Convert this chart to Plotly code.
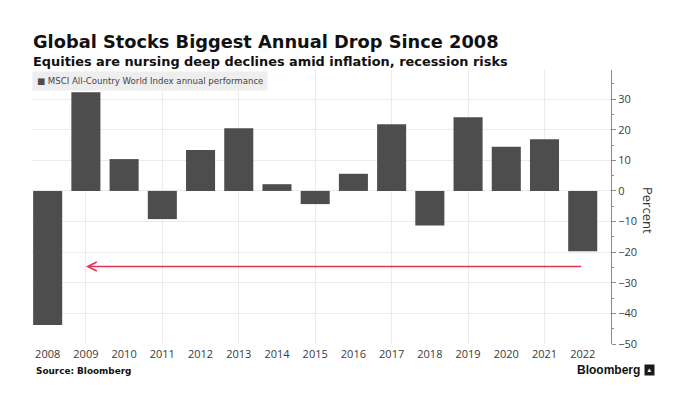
import plotly.graph_objects as go

years = [str(y) for y in range(2008, 2023)]
performance = [-43.8, 32.2, 10.4, -9.2, 13.4, 20.5, 2.2, -4.3, 5.6, 21.8, -11.3, 24.1, 14.4, 16.9, -19.7]
y_tickvals = [30, 20, 10, 0, -10, -20, -30, -40, -50]
arrow_from = "2022"
arrow_to = "2009"
arrow_level = -24.7

title = "Global Stocks Biggest Annual Drop Since 2008"
subtitle = "Equities are nursing deep declines amid inflation, recession risks"
legend_label = "MSCI All-Country World Index annual performance"

W, H = 675, 398
L, R, T, B = 32, 64, 70, 54
PW, PH = W - L - R, H - T - B


def px(x):
    return (x - L) / PW


def py(y):
    return (H - B - y) / PH


BAR = "#4d4d4d"
GRID = "#ebebeb"
TXT = "#333333"

fig = go.Figure()
fig.add_trace(go.Bar(x=years, y=performance, marker=dict(color=BAR, line=dict(width=0)),
                     width=0.76, showlegend=False, hoverinfo="x+y"))
# invisible trace to carry the vertical-grid axis
fig.add_trace(go.Scatter(x=[0, 14], y=[0, 0], xaxis="x2", mode="markers",
                         marker=dict(opacity=0), showlegend=False, hoverinfo="skip"))

fig.update_layout(
    width=W, height=H,
    margin=dict(l=L, r=R, t=T, b=B),
    paper_bgcolor="white", plot_bgcolor="white",
    font=dict(family="Open Sans", color=TXT),
    xaxis=dict(type="category", range=[-0.41, 14.74], showgrid=False, zeroline=False,
               showline=False, ticks="", tickfont=dict(size=11, color="#3a3a3a", family="Open Sans"),
               ticklabelstandoff=2),
    xaxis2=dict(overlaying="x", anchor="y", range=[-0.41, 14.74], tick0=1, dtick=2,
                showgrid=True, gridcolor=GRID, gridwidth=1, showticklabels=False,
                zeroline=False, showline=False, ticks=""),
    yaxis=dict(side="right", range=[-50, 39.5], tickvals=y_tickvals, showgrid=True,
               gridcolor=GRID, gridwidth=1, zeroline=False, showline=True,
               linecolor="#8a8a8a", linewidth=1, ticks="outside", ticklen=4,
               tickcolor="#8a8a8a", tickfont=dict(size=11, color="#3a3a3a", family="Open Sans"),
               minor=dict(dtick=5, ticks="outside", ticklen=2, tickcolor="#8a8a8a", showgrid=False)),
    bargap=0.24,
    showlegend=False,
)

anns = [
    dict(text="<b>" + title + "</b>", x=px(31), y=py(42), xanchor="left", yanchor="middle",
         font=dict(family="DejaVu Sans", size=17.8, color="#111111")),
    dict(text="<b>" + subtitle + "</b>", x=px(31), y=py(61), xanchor="left", yanchor="middle",
         font=dict(family="DejaVu Sans", size=12.9, color="#111111")),
    dict(text="<span style='color:#4d4d4d'>■</span> " + legend_label, x=px(32), y=py(70.5),
         xanchor="left", yanchor="top", bgcolor="#eeeeee", borderpad=4,
         font=dict(family="DejaVu Sans", size=8.6, color="#444444")),
    dict(text="Percent", x=px(648), y=py(210), xanchor="center", yanchor="middle",
         textangle=90, font=dict(family="Open Sans", size=13, color=TXT)),
    dict(text="<b>Source: Bloomberg</b>", x=px(34), y=py(371), xanchor="left", yanchor="middle",
         font=dict(family="DejaVu Sans", size=8.9, color="#111111")),
    dict(text="<b>Bloomberg</b>", x=px(642), y=py(370), xanchor="right", yanchor="middle",
         font=dict(family="Liberation Sans", size=12, color="#111111")),
    dict(text="<b>▴</b>", x=px(649.5), y=py(370), xanchor="center", yanchor="middle",
         bgcolor="#1a1a1a", borderpad=0, width=9, height=10,
         font=dict(family="DejaVu Sans", size=7, color="white")),
    dict(text="", x=years.index(arrow_to), y=arrow_level,
         ax=years.index(arrow_from), ay=arrow_level,
         xref="x", yref="y", axref="x", ayref="y", showarrow=True,
         arrowhead=5, arrowsize=1.1, arrowwidth=1.6, arrowcolor="#e4344f"),
]
for a in anns:
    a.setdefault("xref", "paper")
    a.setdefault("yref", "paper")
    a.setdefault("showarrow", False)
    fig.add_annotation(**a)

fig.write_html("out.html", config={"displayModeBar": False},
               post_script="document.body.style.margin='0';")
